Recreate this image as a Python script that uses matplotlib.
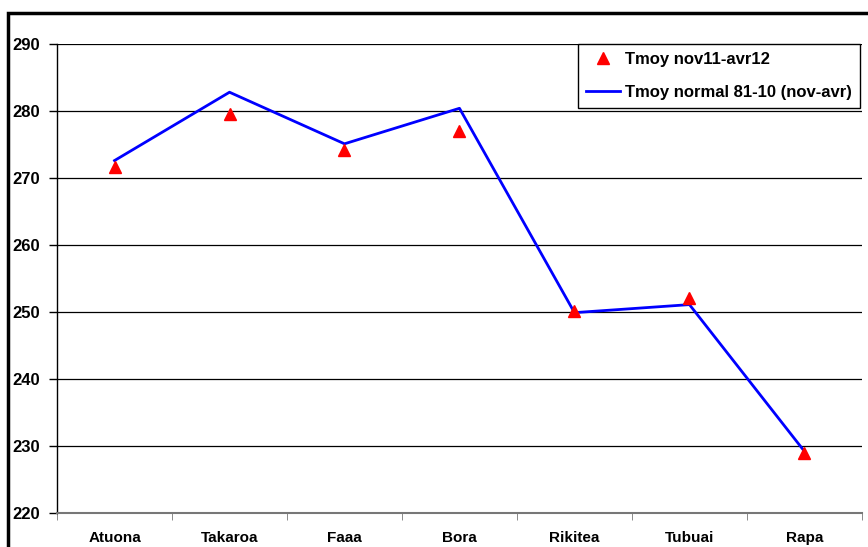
import matplotlib.pyplot as plt
from matplotlib.patches import Rectangle
import numpy as np

# Stations and temperatures (tenths of a degree)
stations = ["Atuona", "Takaroa", "Faaa", "Bora", "Rikitea", "Tubuai", "Rapa"]
tmoy_2011_12 = [271.6, 279.6, 274.2, 277.0, 250.1, 252.1, 229.0]
tmoy_normal = [272.6, 282.8, 275.1, 280.4, 249.9, 251.1, 229.2]

plt.rcParams["font.family"] = ["Liberation Sans", "DejaVu Sans"]
plt.rcParams["font.weight"] = "bold"

fig = plt.figure(figsize=(8.68, 5.47), dpi=100)
ax = fig.add_axes([0.0657, 0.0622, 0.9273, 0.8574])

x = np.arange(len(stations))
ax.plot(x, tmoy_normal, color="#0000ff", lw=2, label="Tmoy normal 81-10 (nov-avr)", zorder=3)
ax.plot(x, tmoy_2011_12, ls="none", marker="^", ms=9, color="#ff0000",
        label="Tmoy nov11-avr12", zorder=4)

ax.set_xlim(-0.5, len(stations) - 0.5)
ax.set_ylim(220, 290)
ax.set_yticks(range(220, 291, 10))
ax.set_xticks(x)
ax.set_xticklabels(stations)
ax.set_xticks(np.arange(-0.5, len(stations)), minor=True)
ax.tick_params(axis="x", which="major", length=0, pad=13, labelsize=11)
ax.tick_params(axis="x", which="minor", length=5, color="#777777", direction="out")
ax.tick_params(axis="y", length=6, width=1, pad=6, labelsize=12)

ax.grid(axis="y", color="black", lw=0.9)
ax.set_axisbelow(True)
for side in ["top", "right"]:
    ax.spines[side].set_visible(False)
ax.spines["bottom"].set_color("#777777")
ax.spines["bottom"].set_linewidth(1.5)
ax.spines["left"].set_linewidth(1)

handles, labels = ax.get_legend_handles_labels()
leg = ax.legend(handles[::-1], labels[::-1], loc="upper right",
                bbox_to_anchor=(1.008, 1.018), fancybox=False, framealpha=1,
                edgecolor="black", fontsize=12, handlelength=2.0,
                handletextpad=0.3, borderpad=0.5, labelspacing=1.05)
leg.get_frame().set_linewidth(1)

# outer frame round the chart area
fig.patches.append(Rectangle((0.009, -0.1), 1.1, 1.076, transform=fig.transFigure,
                             fill=False, lw=2.5, edgecolor="black"))

fig.savefig("out.png", dpi=100)
